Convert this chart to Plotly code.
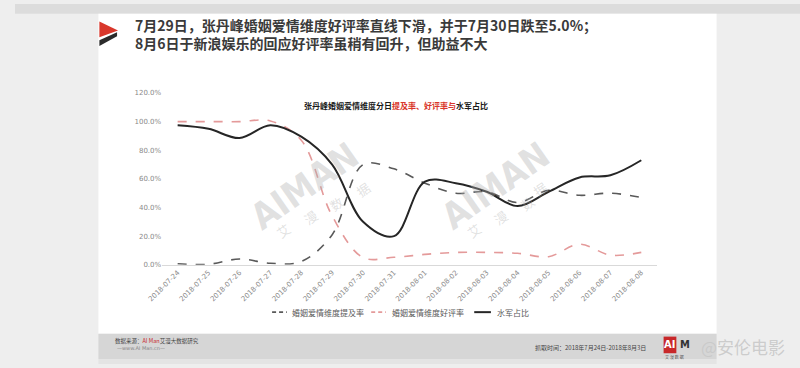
import plotly.graph_objects as go

W, H = 800, 368

# ---------------- data ----------------
dates = ["2018-07-24", "2018-07-25", "2018-07-26", "2018-07-27", "2018-07-28",
         "2018-07-29", "2018-07-30", "2018-07-31", "2018-08-01", "2018-08-02",
         "2018-08-03", "2018-08-04", "2018-08-05", "2018-08-06", "2018-08-07",
         "2018-08-08"]
mention_rate = [0.7, 0.3, 4.0, 1.0, 2.3, 21.0, 70.0, 67.0, 57.0, 50.0,
                51.0, 43.5, 52.0, 48.5, 50.0, 47.0]
positive_rate = [100.0, 100.0, 100.0, 100.5, 87.0, 34.0, 5.0, 5.2, 7.2, 8.6,
                 8.6, 8.0, 5.6, 14.3, 6.7, 8.6]
bot_share = [97.5, 95.0, 88.5, 97.5, 89.5, 70.0, 30.0, 20.0, 58.0, 57.0,
             51.0, 41.0, 51.0, 61.0, 62.5, 73.0]
y_ticks = [0, 20, 40, 60, 80, 100, 120]
y_tick_labels = [f"{v:.1f}%" for v in y_ticks]

series_names = ["婚姻爱情维度提及率", "婚姻爱情维度好评率", "水军占比"]
series_colors = ["#595959", "#e49a9a", "#262626"]
series_dash = ["dash", "dash", "solid"]
series_width = [1.6, 1.6, 2.0]

CJK = "Noto Sans CJK SC"


def X(px):
    return px / W


def Y(py):
    return 1 - py / H


fig = go.Figure()
for name, vals, col, dsh, wd in zip(series_names, [mention_rate, positive_rate, bot_share],
                                    series_colors, series_dash, series_width):
    fig.add_trace(go.Scatter(
        x=dates, y=vals, name=name, mode="lines", showlegend=False,
        line=dict(color=col, width=wd, dash=dsh, shape="spline", smoothing=1.0)))

shapes = []
# slide background pieces
shapes.append(dict(type="rect", xref="paper", yref="paper", layer="below",
                   x0=0, x1=1, y0=Y(10), y1=1, fillcolor="#dcdcdc", line_width=0))
shapes.append(dict(type="rect", xref="paper", yref="paper", layer="below",
                   x0=X(85), x1=X(715), y0=Y(337), y1=Y(10), fillcolor="#ffffff", line_width=0))
shapes.append(dict(type="rect", xref="paper", yref="paper", layer="below",
                   x0=X(85), x1=X(715), y0=Y(363), y1=Y(337), fillcolor="#d6d6d6", line_width=0))
shapes.append(dict(type="rect", xref="paper", yref="paper", layer="below",
                   x0=X(85), x1=X(715), y0=0, y1=Y(363), fillcolor="#e4e4e4", line_width=0))
# header logo
shapes.append(dict(type="path", xref="paper", yref="paper", layer="above",
                   path=f"M {X(86)},{Y(18)} L {X(105)},{Y(27)} L {X(86)},{Y(34)} Z",
                   fillcolor="#d9372b", line_width=0))
shapes.append(dict(type="path", xref="paper", yref="paper", layer="above",
                   path=f"M {X(86)},{Y(37)} L {X(104)},{Y(29)} L {X(104)},{Y(33)} L {X(86)},{Y(43)} Z",
                   fillcolor="#2b2b2b", line_width=0))
# footer AI logo box
shapes.append(dict(type="rect", xref="paper", yref="paper", layer="above",
                   x0=X(661), x1=X(674), y0=Y(357), y1=Y(340), fillcolor="#c8282a", line_width=0))

ann = []
# legend (hand-placed to match the compact original layout)
legend_sym_x = [(262, 277), (363, 378), (468, 485)]
legend_txt_x = [280, 382, 489]
for (x0, x1), tx, name, col, dsh, wd in zip(legend_sym_x, legend_txt_x, series_names,
                                            series_colors, series_dash, series_width):
    shapes.append(dict(type="line", xref="paper", yref="paper", layer="above",
                       x0=X(x0), x1=X(x1), y0=Y(315), y1=Y(315),
                       line=dict(color=col, width=wd, dash="4px,3px" if dsh == "dash" else "solid")))
    ann.append(dict(x=X(tx), y=Y(315), xref="paper", yref="paper", xanchor="left", yanchor="middle",
                    showarrow=False, text=name,
                    font=dict(family=CJK, size=8, color="#595959")))

# header text (two lines in one block)
ann.append(dict(x=X(121), y=Y(31), xref="paper", yref="paper", xanchor="left", yanchor="middle",
                align="left", showarrow=False, borderpad=0,
                text="<b>7月29日，张丹峰婚姻爱情维度好评率直线下滑，并于7月30日跌至5.0%；</b><br>"
                     "<b>8月6日于新浪娱乐的回应好评率虽稍有回升，但助益不大</b>",
                font=dict(family=CJK, size=14, color="#3a3a3a")))
# chart title
ann.append(dict(x=X(388), y=Y(104), xref="paper", yref="paper", xanchor="center", yanchor="middle",
                showarrow=False,
                text="<b>张丹峰婚姻爱情维度分日<span style='color:#d9372b'>提及率、好评率与</span>水军占比</b>",
                font=dict(family=CJK, size=8, color="#1a1a1a")))
# watermarks
for cx in (296, 490):
    ann.append(dict(x=X(cx), y=Y(186), xref="paper", yref="paper", showarrow=False,
                    text="<b>AIMAN</b>", textangle=-35,
                    font=dict(family="DejaVu Sans Condensed", size=36, color="rgba(175,175,175,0.38)")))
    for k, ch in enumerate("艾漫数据"):
        ann.append(dict(x=X(cx - 22 + k * 27), y=Y(232 - k * 14), xref="paper", yref="paper",
                        showarrow=False, text=ch, textangle=-35,
                        font=dict(family=CJK, size=13, color="rgba(175,175,175,0.38)")))
# footer
ann.append(dict(x=X(100), y=Y(344), xref="paper", yref="paper", xanchor="left", yanchor="middle",
                showarrow=False,
                text="数据来源：<span style='color:#c8282a'>AI Man</span>艾漫大数据研究",
                font=dict(family=CJK, size=5.5, color="#444444")))
ann.append(dict(x=X(102), y=Y(352), xref="paper", yref="paper", xanchor="left", yanchor="middle",
                showarrow=False, text="—www.AI Man.cn—",
                font=dict(family="DejaVu Sans", size=5, color="#888888")))
ann.append(dict(x=X(587), y=Y(351), xref="paper", yref="paper", xanchor="center", yanchor="middle",
                showarrow=False, text="抓取时间：2018年7月24日-2018年8月3日",
                font=dict(family=CJK, size=6, color="#444444")))
ann.append(dict(x=X(667.5), y=Y(348.5), xref="paper", yref="paper", xanchor="center", yanchor="middle",
                showarrow=False, text="<b>AI</b>",
                font=dict(family="DejaVu Sans Condensed", size=11, color="#ffffff")))
ann.append(dict(x=X(676), y=Y(348.5), xref="paper", yref="paper", xanchor="left", yanchor="middle",
                showarrow=False, text="<b>M</b>",
                font=dict(family="DejaVu Sans Condensed", size=11, color="#333333")))
ann.append(dict(x=X(672), y=Y(361), xref="paper", yref="paper", xanchor="center", yanchor="middle",
                showarrow=False, text="艾 漫 数 据",
                font=dict(family=CJK, size=4, color="#555555")))
ann.append(dict(x=X(742), y=Y(350), xref="paper", yref="paper", xanchor="center", yanchor="middle",
                showarrow=False, text="@安伦电影",
                font=dict(family=CJK, size=17, color="rgba(200,200,200,0.9)")))

fig.update_layout(
    width=W, height=H,
    margin=dict(l=0, r=0, t=0, b=0),
    paper_bgcolor="#eeeeee",
    plot_bgcolor="rgba(0,0,0,0)",
    shapes=shapes,
    annotations=ann,
    showlegend=False,
    xaxis=dict(domain=[X(150), X(654)], type="category", range=[-0.5, 15.5],
               tickangle=-45, tickfont=dict(family="DejaVu Sans", size=7, color="#8a8a8a"),
               showline=True, linecolor="#d9d9d9", linewidth=1, showgrid=False,
               ticks="", zeroline=False, fixedrange=True),
    yaxis=dict(domain=[Y(266.5), Y(91)], range=[0, 120], tickvals=y_ticks,
               ticktext=y_tick_labels,
               tickfont=dict(family="DejaVu Sans", size=7, color="#8a8a8a"),
               showgrid=False, zeroline=False, showline=False, ticks="", fixedrange=True),
)

fig.write_html("out.html")
